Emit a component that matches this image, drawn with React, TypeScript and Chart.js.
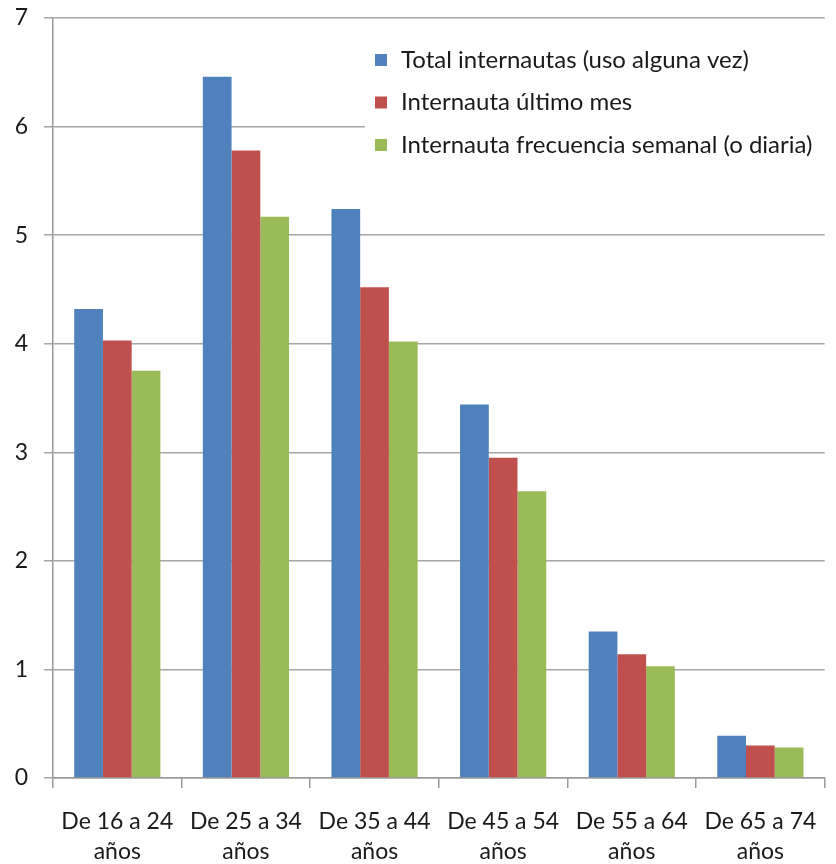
import React, { useEffect, useRef } from "react";
import { Chart, registerables } from "chart.js";

Chart.register(...registerables);

const categories: string[][] = [
  ["De 16 a 24", "años"],
  ["De 25 a 34", "años"],
  ["De 35 a 44", "años"],
  ["De 45 a 54", "años"],
  ["De 55 a 64", "años"],
  ["De 65 a 74", "años"],
];
const totalInternautas = [4.32, 6.46, 5.24, 3.44, 1.35, 0.39];
const ultimoMes = [4.03, 5.78, 4.52, 2.95, 1.14, 0.3];
const frecuenciaSemanal = [3.75, 5.17, 4.02, 2.64, 1.03, 0.28];
const seriesNames = [
  "Total internautas (uso alguna vez)",
  "Internauta último mes",
  "Internauta frecuencia semanal (o diaria)",
];
const colors = ["#4F81BD", "#C0504D", "#9BBB59"];
const FONT = "Lato, 'Open Sans', sans-serif";

const legendPlugin = {
  id: "insideLegend",
  afterDraw(chart: any) {
    const ctx = chart.ctx;
    ctx.save();
    ctx.fillStyle = "#ffffff";
    ctx.fillRect(365, 36, 471, 130);
    ctx.font = `24px ${FONT}`;
    ctx.textBaseline = "middle";
    ctx.textAlign = "left";
    chart.data.datasets.forEach((ds: any, i: number) => {
      const y = 60 + i * 42.5;
      ctx.fillStyle = ds.backgroundColor;
      ctx.fillRect(375, y - 6, 12, 12);
      ctx.fillStyle = "#1a1a1a";
      ctx.fillText(ds.label, 401, y);
    });
    ctx.restore();
  },
};

export default function App() {
  const ref = useRef<HTMLCanvasElement>(null);
  useEffect(() => {
    document.body.style.margin = "0";
    const values = [totalInternautas, ultimoMes, frecuenciaSemanal];
    const chart = new Chart(ref.current!, {
      type: "bar",
      data: {
        labels: categories,
        datasets: values.map((v, i) => ({
          label: seriesNames[i],
          data: v,
          backgroundColor: colors[i],
          borderWidth: 0,
          barPercentage: 1,
          categoryPercentage: 0.67,
        })),
      },
      options: {
        animation: false,
        responsive: false,
        layout: { padding: { left: 0, right: 8, top: 18, bottom: 0 } },
        plugins: { legend: { display: false }, tooltip: { enabled: false } },
        scales: {
          x: {
            grid: {
              drawOnChartArea: false,
              drawTicks: true,
              tickLength: 10,
              color: "#999999",
              lineWidth: 1.5,
            },
            border: { color: "#999999", width: 1.5 },
            ticks: {
              font: { family: FONT, size: 23, lineHeight: 1.3 },
              color: "#1a1a1a",
              padding: 19,
              maxRotation: 0,
              autoSkip: false,
            },
            afterFit(scale: any) {
              scale.height = 86;
            },
          },
          y: {
            min: 0,
            max: 7,
            ticks: {
              stepSize: 1,
              font: { family: FONT, size: 23 },
              color: "#1a1a1a",
              padding: 16,
            },
            grid: { color: "#a6a6a6", lineWidth: 1.5, tickLength: 9 },
            border: { color: "#999999", width: 1.5 },
            afterFit(scale: any) {
              scale.width = 53;
              scale.paddingTop = 0;
              scale.paddingBottom = 0;
            },
          },
        },
      },
      plugins: [legendPlugin],
    });
    return () => chart.destroy();
  }, []);
  return <canvas ref={ref} width={836} height={864} style={{ display: "block" }} />;
}
